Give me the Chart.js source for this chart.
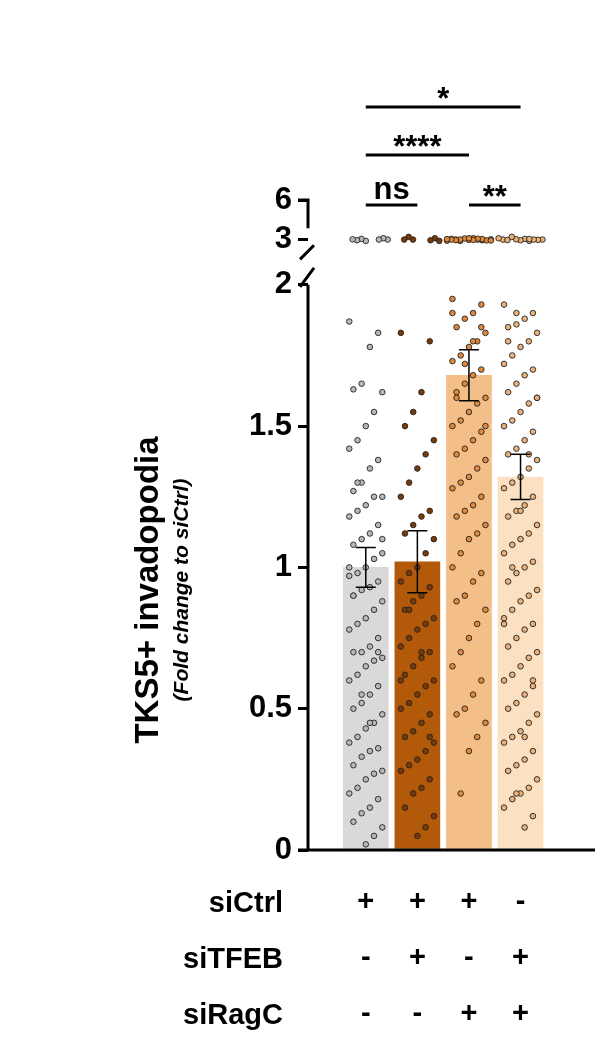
<!DOCTYPE html>
<html><head><meta charset="utf-8">
<script src="https://cdn.jsdelivr.net/npm/chart.js@4"></script>
<style>body{margin:0;background:#fff}canvas{display:block}</style>
</head><body>
<canvas id="c" width="609" height="1047"></canvas>
<script>
const groups = ['siCtrl', 'siCtrl+siTFEB', 'siCtrl+siRagC', 'siTFEB+siRagC'];
const means = [1.0, 1.02, 1.68, 1.32];
const sems = [0.07, 0.11, 0.09, 0.08];
const barColors = ['#d9d9d9', '#b35a0a', '#f3be88', '#fbe0c2'];
const dotColors = ['#b8b8b8', '#7a3a05', '#e0893a', '#eab27a'];
const rowLabels = ['siCtrl', 'siTFEB', 'siRagC'];
const signs = [['+', '+', '+', '-'], ['-', '+', '-', '+'], ['-', '-', '+', '+']];
const yTickLabels = {0: '0', 0.5: '0.5', 1: '1', 1.5: '1.5', 2: '2', 2.16: '3', 2.3: '6'};

const g1 = [1.87,1.83,1.78,1.65,1.63,1.62,1.55,1.5,1.45,1.42,1.38,1.35,1.3,1.27,1.25,1.25,1.22,1.2,1.18,1.15,1.12,1.1,1.08,1.05,1.03,1.0,0.98,0.97,0.95,0.93,0.92,0.9,0.88,0.85,0.82,0.8,0.78,0.75,0.72,0.7,0.7,0.68,0.67,0.65,0.62,0.6,0.58,0.55,0.52,0.5,0.48,0.45,0.43,0.4,0.38,0.36,0.35,0.33,0.3,0.28,0.27,0.25,0.22,0.2,0.18,0.15,0.13,0.1,0.08,0.05,0.02,1.3,1.0,0.7,0.45,0.55,0.9,1.1,
  2.9,3.0,3.05,3.1,2.95,3.0,3.02];
const g2 = [1.83,1.8,1.62,1.55,1.5,1.45,1.4,1.35,1.3,1.25,1.2,1.18,1.15,1.12,1.1,1.05,1.0,0.98,0.95,0.93,0.9,0.88,0.85,0.82,0.8,0.78,0.75,0.72,0.7,0.68,0.65,0.62,0.6,0.58,0.55,0.52,0.5,0.48,0.45,0.42,0.4,0.38,0.35,0.32,0.3,0.28,0.25,0.22,0.2,0.15,0.12,0.08,0.05,0.85,0.6,0.4,0.7,
  2.9,3.0,3.1,3.2,2.95,3.0];
const g3 = [1.95,1.93,1.9,1.88,1.85,1.83,1.8,1.78,1.75,1.73,1.7,1.68,1.65,1.62,1.6,1.58,1.55,1.52,1.5,1.48,1.45,1.42,1.4,1.38,1.35,1.32,1.3,1.28,1.25,1.22,1.2,1.18,1.15,1.12,1.1,1.05,1.0,0.98,0.95,0.9,0.88,0.85,0.8,0.75,0.7,0.65,0.6,0.55,0.5,0.48,0.45,0.4,0.35,0.2,1.9,1.85,1.8,1.72,1.6,1.5,
  2.9,2.95,3.0,3.0,3.05,3.1,2.92,2.98,3.02,3.08,2.94,3.0,3.04,2.96,3.06,3.0,2.97,3.03,3.1,2.93];
const g4 = [1.93,1.9,1.88,1.86,1.85,1.83,1.8,1.78,1.75,1.72,1.7,1.68,1.65,1.62,1.6,1.58,1.55,1.52,1.5,1.48,1.45,1.42,1.4,1.38,1.35,1.32,1.3,1.28,1.25,1.22,1.2,1.18,1.15,1.12,1.1,1.08,1.05,1.02,1.0,0.98,0.95,0.92,0.9,0.88,0.85,0.82,0.8,0.78,0.75,0.72,0.7,0.68,0.65,0.62,0.6,0.58,0.55,0.52,0.5,0.48,0.45,0.42,0.4,0.38,0.35,0.32,0.3,0.28,0.25,0.22,0.2,0.18,0.15,0.12,0.08,1.9,1.8,1.6,1.4,1.2,1.0,0.8,0.6,0.4,0.2,
  2.9,3.0,3.05,3.1,2.95,3.0,3.02,2.98,3.2,3.0,2.96,3.04];
const points = [g1, g2, g3, g4];
const sig = [ // [from, to, label, pixel y of line]
  [0, 3, '*', 107], [0, 2, '****', 155], [0, 1, 'ns', 205], [2, 3, '**', 205]
];

// broken axis: values above 2 are squeezed into the top segment
function toAxis(v) { return v <= 2 ? v : 2.16 + (v - 3) * 0.047; }

const scatterSets = points.map((arr, g) => ({
  type: 'scatter',
  data: arr.map((v, i) => {
    const off = v > 2 ? (((i * 5) % 11) - 5) * 0.085 : (((i * 7) % 9) - 4) * 0.08;
    return {x: g + off, y: toAxis(v)};
  }),
  backgroundColor: dotColors[g], borderColor: '#222', borderWidth: 0.9, pointRadius: 2.8
}));

const FONT = 'Arial, "Liberation Sans", sans-serif';

const extras = {
  id: 'extras',
  afterDatasetsDraw(chart) {
    const ctx = chart.ctx, x = chart.scales.x, y = chart.scales.y;
    ctx.save();
    ctx.strokeStyle = '#000'; ctx.fillStyle = '#000';
    // error bars
    ctx.lineWidth = 1.5;
    means.forEach((m, i) => {
      const cx = x.getPixelForValue(i);
      const t = y.getPixelForValue(m + sems[i]), b = y.getPixelForValue(m - sems[i]);
      ctx.beginPath();
      ctx.moveTo(cx, t); ctx.lineTo(cx, b);
      ctx.moveTo(cx - 10, t); ctx.lineTo(cx + 10, t);
      ctx.moveTo(cx - 10, b); ctx.lineTo(cx + 10, b);
      ctx.stroke();
    });
    // axes
    ctx.lineWidth = 3;
    const ax = chart.chartArea.left, y0 = y.getPixelForValue(0);
    ctx.beginPath();
    ctx.moveTo(ax, y0); ctx.lineTo(ax, y.getPixelForValue(2.0));
    ctx.moveTo(ax - 10, y0); ctx.lineTo(595, y0);
    ctx.moveTo(ax - 10, y.getPixelForValue(2.3)); ctx.lineTo(ax, y.getPixelForValue(2.3));
    ctx.lineTo(ax, y.getPixelForValue(2.2));
    ctx.moveTo(ax - 10, y.getPixelForValue(2.16)); ctx.lineTo(ax, y.getPixelForValue(2.16));
    ctx.stroke();
    // break slashes
    ctx.beginPath();
    ctx.moveTo(ax - 8, y.getPixelForValue(2.0) + 2); ctx.lineTo(ax + 6, y.getPixelForValue(2.06));
    ctx.moveTo(ax - 8, y.getPixelForValue(2.09)); ctx.lineTo(ax + 6, y.getPixelForValue(2.14));
    ctx.stroke();
    // significance bars
    ctx.font = 'bold 31px ' + FONT;
    ctx.textAlign = 'center'; ctx.textBaseline = 'alphabetic';
    sig.forEach(([a, b, lab, py]) => {
      const xa = x.getPixelForValue(a), xb = x.getPixelForValue(b);
      ctx.beginPath(); ctx.moveTo(xa, py); ctx.lineTo(xb, py); ctx.stroke();
      const star = lab.indexOf('*') >= 0;
      ctx.fillText(lab, (xa + xb) / 2, star ? py + 2 : py - 6);
    });
    // +/- table
    ctx.font = 'bold 29px ' + FONT;
    rowLabels.forEach((r, ri) => {
      const py = 912 + ri * 56;
      ctx.textAlign = 'right'; ctx.fillText(r, 283, py);
      ctx.textAlign = 'center';
      signs[ri].forEach((s, gi) => ctx.fillText(s, x.getPixelForValue(gi), py - 2));
    });
    // y titles
    ctx.translate(158, 590); ctx.rotate(-Math.PI / 2);
    ctx.textAlign = 'center';
    ctx.font = 'bold 33px ' + FONT;
    ctx.fillText('TKS5+ invadopodia', 0, 0);
    ctx.font = 'italic bold 21px ' + FONT;
    ctx.fillText('(Fold change to siCtrl)', 0, 30);
    ctx.restore();
  }
};

new Chart(document.getElementById('c'), {
  data: {
    datasets: [{type: 'bar', data: means.map((m, i) => ({x: i, y: m})), backgroundColor: barColors,
      barThickness: 45, grouped: false, order: 2}, ...scatterSets]
  },
  options: {
    responsive: false, animation: false,
    layout: {padding: {top: 200, bottom: 197, right: 41, left: 0}},
    plugins: {legend: {display: false}, tooltip: {enabled: false}},
    scales: {
      x: {type: 'linear', display: false, min: -0.7, max: 3.5},
      y: {
        min: 0, max: 2.3,
        afterFit(s) { s.width = 308; },
        afterBuildTicks(s) { s.ticks = Object.keys(yTickLabels).map(v => ({value: +v})); },
        border: {display: false},
        grid: {drawOnChartArea: false, color: '#000', lineWidth: 3, tickLength: 10},
        ticks: {color: '#000', padding: 6, font: {size: 31, weight: 'bold', family: FONT},
          callback: v => yTickLabels[v]}
      }
    }
  },
  plugins: [extras]
});
</script>
</body></html>
